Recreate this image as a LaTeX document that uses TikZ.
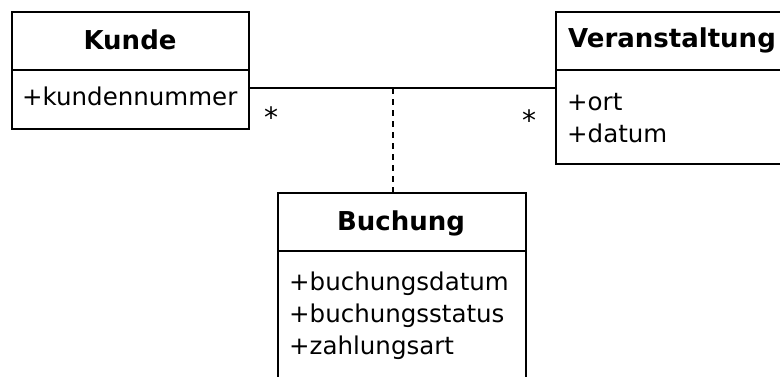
\documentclass[tikz,border=0pt]{standalone}
\usepackage{fontspec}
\setmainfont{DejaVu Sans}
\begin{document}
\begin{tikzpicture}[x=1pt,y=-1pt,
  box/.style={draw,line width=1.8pt,rectangle,anchor=north west,inner sep=0pt},
  attr/.style={anchor=base west,inner sep=0pt,font=\fontsize{24.5}{28}\selectfont},
  title/.style={anchor=base,inner sep=0pt,font=\fontsize{26}{30}\selectfont\bfseries},
  mult/.style={anchor=base,inner sep=0pt,font=\fontsize{28}{30}\selectfont},
  assoc/.style={line width=1.8pt},
  dep/.style={line width=1.8pt,dash pattern=on 6pt off 5pt}]
\useasboundingbox (0,0) rectangle (780,376);
\clip (0,0) rectangle (780,376);
% boxes
\node[box,minimum width=237pt,minimum height=117pt] (kunde) at (11,11) {};
\node[box,minimum width=260pt,minimum height=152pt] (veran) at (555,11) {};
\node[box,minimum width=248pt,minimum height=220pt] (buch) at (277,192) {};
% dividers
\draw[line width=1.8pt] (kunde.west |- 0,70) -- (kunde.east |- 0,70);
\draw[line width=1.8pt] (veran.west |- 0,70) -- (veran.east |- 0,70);
\draw[line width=1.8pt] (buch.west |- 0,251) -- (buch.east |- 0,251);
% titles
\node[title] (tk) at (130,49) {Kunde};
\node[title,anchor=base west] (tv) at (568,47) {Veranstaltung};
\node[title] (tb) at (401,230) {Buchung};
% attributes
\node[attr] (a1) at (22,105) {+kundennummer};
\node[attr] (a2) at (567,110) {+ort};
\node[attr] (a3) at (567,142) {+datum};
\node[attr] (a4) at (289,290) {+buchungsdatum};
\node[attr] (a5) at (289,322) {+buchungsstatus};
\node[attr] (a6) at (289,354) {+zahlungsart};
% association
\coordinate (ac) at (393,88);
\draw[assoc] (kunde.east |- ac) -- (veran.west |- ac);
\draw[dep] (ac) -- (ac |- buch.north);
% multiplicities
\node[mult] (m1) at (271,127) {*};
\node[mult] (m2) at (529,130) {*};
\end{tikzpicture}
\end{document}
